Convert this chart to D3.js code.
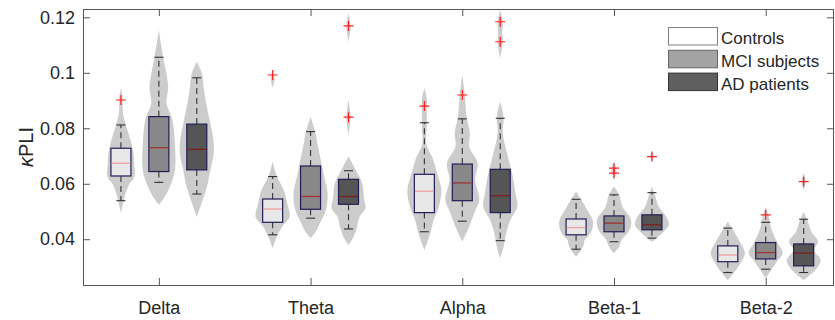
<!DOCTYPE html>
<html>
<head>
<meta charset="utf-8">
<script src="https://cdn.jsdelivr.net/npm/d3@7"></script>
<style>
  body { margin: 0; background: #fff; }
  text { font-family: "Liberation Sans", Arial, sans-serif; fill: #262626; }
</style>
</head>
<body>
<div id="chart"></div>
<script>
// bands on the x axis and the three cohorts
const bands = ["Delta", "Theta", "Alpha", "Beta-1", "Beta-2"];
const cohorts = ["Controls", "MCI subjects", "AD patients"];
const yTicks = [0.04, 0.06, 0.08, 0.1, 0.12];

// box stats per cohort, one value per band: [lowWhisker, q1, median, q3, highWhisker]
const controlsStats = [
  [0.0539, 0.0628, 0.0674, 0.0728, 0.0812],
  [0.0416, 0.0461, 0.0509, 0.0545, 0.0626],
  [0.0427, 0.0496, 0.0573, 0.0634, 0.0820],
  [0.0364, 0.0416, 0.0442, 0.0473, 0.0544],
  [0.0280, 0.0319, 0.0343, 0.0376, 0.0440]
];
const mciStats = [
  [0.0605, 0.0644, 0.0730, 0.0842, 0.1056],
  [0.0476, 0.0508, 0.0554, 0.0664, 0.0788],
  [0.0465, 0.0539, 0.0603, 0.0671, 0.0834],
  [0.0391, 0.0427, 0.0458, 0.0484, 0.0560],
  [0.0292, 0.0329, 0.0352, 0.0388, 0.0461]
];
const adStats = [
  [0.0563, 0.0650, 0.0724, 0.0815, 0.0982],
  [0.0437, 0.0526, 0.0554, 0.0616, 0.0647],
  [0.0395, 0.0496, 0.0557, 0.0652, 0.0836],
  [0.0404, 0.0434, 0.0452, 0.0488, 0.0568],
  [0.0280, 0.0304, 0.0350, 0.0383, 0.0472]
];

// outliers per cohort per band
const controlsOutliers = [[0.0902], [0.0992], [0.0880], [], []];
const mciOutliers = [[], [], [0.0920], [0.0638, 0.0656], [0.0488]];
const adOutliers = [[], [0.0840, 0.1169], [0.1112, 0.1184], [0.0698], [0.0608]];

// violin outlines: [value, relative half-width], null = gap
const controlsViolins = [
  [[0.0945,0],[0.0915,0.09],[0.088,0.1],[0.085,0.13],[0.082,0.25],[0.079,0.4],[0.076,0.55],[0.073,0.68],[0.070,0.75],[0.067,0.78],[0.064,0.82],[0.062,0.75],[0.060,0.5],[0.057,0.3],[0.054,0.17],[0.0495,0]],
  [[0.1006,0],[0.0975,0.1],[0.0946,0], null, [0.068,0],[0.0626,0.25],[0.0578,0.65],[0.053,0.85],[0.0481,1.0],[0.0445,0.55],[0.0409,0.25],[0.0368,0]],
  [[0.0945,0],[0.0902,0.15],[0.086,0.14],[0.083,0.15],[0.0783,0.12],[0.0747,0.1],[0.0722,0.25],[0.0698,0.45],[0.0638,0.75],[0.0578,1.0],[0.0517,0.85],[0.047,0.55],[0.0422,0.35],[0.0361,0]],
  [[0.0572,0],[0.0542,0.3],[0.0506,0.65],[0.0463,1.0],[0.0422,0.85],[0.0397,0.5],[0.038,0.45],[0.0361,0.3],[0.0337,0]],
  [[0.0463,0],[0.0434,0.3],[0.0397,0.65],[0.035,1.0],[0.0314,0.75],[0.0283,0.4],[0.0253,0]]
];
const mciViolins = [
  [[0.1154,0],[0.1058,0.25],[0.095,0.55],[0.089,0.45],[0.083,0.8],[0.0734,0.95],[0.065,0.95],[0.059,0.65],[0.0554,0.35],[0.0524,0]],
  [[0.0842,0],[0.0788,0.27],[0.0746,0.4],[0.0686,0.6],[0.0626,0.8],[0.0566,1.0],[0.0506,0.9],[0.0458,0.55],[0.0427,0.3],[0.0404,0]],
  [[0.0992,0],[0.092,0.15],[0.0842,0.25],[0.0783,0.45],[0.0734,0.4],[0.0674,0.9],[0.0614,0.75],[0.0542,1.0],[0.0494,0.7],[0.0445,0.4],[0.0391,0]],
  [[0.068,0],[0.0647,0.15],[0.0614,0], null, [0.059,0],[0.056,0.3],[0.0517,0.5],[0.047,1.0],[0.0434,0.92],[0.0397,0.45],[0.0373,0.3],[0.035,0]],
  [[0.0517,0],[0.0476,0.2],[0.0434,0.35],[0.0386,0.7],[0.035,1.0],[0.0319,0.65],[0.0296,0.4],[0.0259,0]]
];
const adViolins = [
  [[0.104,0],[0.0998,0.3],[0.095,0.4],[0.089,0.55],[0.083,0.75],[0.077,0.95],[0.0711,1.0],[0.065,0.8],[0.059,0.6],[0.0542,0.35],[0.048,0]],
  [[0.1214,0],[0.1169,0.12],[0.1112,0], null, [0.0902,0],[0.084,0.12],[0.0776,0], null, [0.0698,0],[0.065,0.42],[0.0602,0.8],[0.0542,0.92],[0.0513,1.0],[0.0481,0.65],[0.0445,0.5],[0.0409,0.3],[0.0379,0]],
  [[0.1226,0],[0.1184,0.15],[0.1148,0.12],[0.1112,0.15],[0.1053,0], null, [0.0896,0],[0.0842,0.2],[0.0783,0.15],[0.071,0.4],[0.0638,0.7],[0.0566,0.9],[0.0517,1.0],[0.047,0.6],[0.0422,0.35],[0.0373,0.2],[0.0332,0]],
  [[0.0716,0],[0.0698,0.1],[0.068,0], null, [0.059,0],[0.0554,0.2],[0.0517,0.4],[0.0481,0.85],[0.0452,1.0],[0.0422,0.6],[0.0391,0]],
  [[0.0639,0],[0.0608,0.12],[0.0578,0], null, [0.0499,0],[0.0463,0.25],[0.0427,0.45],[0.0391,0.85],[0.0361,0.6],[0.0325,1.0],[0.029,0.7],[0.0253,0]]
];

const series = [
  { name: cohorts[0], stats: controlsStats, outliers: controlsOutliers, violins: controlsViolins,
    offset: -0.25, fill: "#e8e8e8", median: "#f2a0a0", legendFill: "#ffffff", legendStroke: "#808080" },
  { name: cohorts[1], stats: mciStats, outliers: mciOutliers, violins: mciViolins,
    offset: 0, fill: "#888888", median: "#a33232", legendFill: "#a3a3a3", legendStroke: "#666666" },
  { name: cohorts[2], stats: adStats, outliers: adOutliers, violins: adViolins,
    offset: 0.25, fill: "#555555", median: "#7e1f1f", legendFill: "#5f5f5f", legendStroke: "#333333" }
];

const W = 835, H = 320;
const margin = { left: 83, right: 1, top: 9, bottom: 35 };

const svg = d3.select("#chart").append("svg")
  .attr("width", W).attr("height", H);

const x = d3.scaleLinear().domain([0.5, 5.45]).range([margin.left, W - margin.right]);
const y = d3.scaleLinear().domain([0.0235, 0.123]).range([H - margin.bottom, margin.top]);
// violin half-width and box sizes, in pixels
const vw = d3.scaleLinear().domain([0, 1]).range([0, 17]);
const boxHalf = 10, capHalf = 4.5;

// violins behind everything
const plot = svg.append("g");
series.forEach(s => {
  s.violins.forEach((prof, i) => {
    const cx = x(i + 1 + s.offset);
    const area = d3.area()
      .defined(d => d !== null)
      .y(d => y(d[0]))
      .x0(d => cx - vw(d[1]))
      .x1(d => cx + vw(d[1]))
      .curve(d3.curveCatmullRom.alpha(0.5));
    plot.append("path")
      .attr("d", area(prof))
      .attr("fill", "#cccccc");
  });
});

// boxes, whiskers, medians, outliers
series.forEach(s => {
  s.stats.forEach((st, i) => {
    const cx = x(i + 1 + s.offset);
    const [lw, q1, med, q3, uw] = st;
    const g = plot.append("g");
    // dashed whiskers
    [[q3, uw], [q1, lw]].forEach(([a, b]) => {
      g.append("line")
        .attr("x1", cx).attr("x2", cx)
        .attr("y1", y(a)).attr("y2", y(b))
        .attr("stroke", "#333").attr("stroke-width", 1.1)
        .attr("stroke-dasharray", "6,4");
    });
    // whisker caps
    [lw, uw].forEach(v => {
      g.append("line")
        .attr("x1", cx - capHalf).attr("x2", cx + capHalf)
        .attr("y1", y(v)).attr("y2", y(v))
        .attr("stroke", "#333").attr("stroke-width", 1.1);
    });
    g.append("rect")
      .attr("x", cx - boxHalf).attr("width", boxHalf * 2)
      .attr("y", y(q3)).attr("height", y(q1) - y(q3))
      .attr("fill", s.fill)
      .attr("stroke", "#1e1e55").attr("stroke-width", 1.2);
    g.append("line")
      .attr("x1", cx - boxHalf + 0.6).attr("x2", cx + boxHalf - 0.6)
      .attr("y1", y(med)).attr("y2", y(med))
      .attr("stroke", s.median).attr("stroke-width", 1.3);
    // red + markers
    s.outliers[i].forEach(v => {
      g.append("path")
        .attr("d", `M${cx - 5},${y(v)}H${cx + 5}M${cx},${y(v) - 5}V${y(v) + 5}`)
        .attr("stroke", "#ff2020").attr("stroke-width", 1.2).attr("fill", "none");
    });
  });
});

// axes frame and ticks
const frame = svg.append("g");
frame.append("rect")
  .attr("x", margin.left + 0.5).attr("y", margin.top + 0.5)
  .attr("width", W - margin.right - margin.left - 1)
  .attr("height", H - margin.bottom - margin.top)
  .attr("fill", "none").attr("stroke", "#555").attr("stroke-width", 1);

frame.append("g")
  .attr("transform", `translate(${margin.left},0)`)
  .call(d3.axisLeft(y).tickValues(yTicks).tickSize(-7).tickPadding(8)
    .tickFormat(d => d3.format("")(+d.toFixed(2))));
frame.append("g")
  .attr("transform", `translate(${W - margin.right},0)`)
  .call(d3.axisRight(y).tickValues(yTicks).tickSize(-7).tickFormat(""));

frame.append("g")
  .attr("transform", `translate(0,${H - margin.bottom})`)
  .call(d3.axisBottom(x).tickValues([1, 2, 3, 4, 5]).tickSize(-7).tickPadding(16)
    .tickFormat(d => bands[d - 1]));
frame.append("g")
  .attr("transform", `translate(0,${margin.top})`)
  .call(d3.axisTop(x).tickValues([1, 2, 3, 4, 5]).tickSize(-7).tickFormat(""));

frame.selectAll(".domain").remove();
frame.selectAll(".tick line").attr("stroke", "#555");
frame.selectAll(".tick text")
  .attr("font-size", 18)
  .attr("font-family", "'Liberation Sans', Arial, sans-serif")
  .attr("fill", "#262626");

// y label
const yl = svg.append("text")
  .attr("transform", `translate(33,${(margin.top + H - margin.bottom) / 2}) rotate(-90)`)
  .attr("text-anchor", "middle")
  .attr("font-size", 20);
yl.append("tspan").attr("font-style", "italic").text("κ");
yl.append("tspan").text("PLI");

// legend
const legend = svg.append("g").attr("transform", "translate(668,27)");
series.forEach((s, i) => {
  const row = legend.append("g").attr("transform", `translate(0,${i * 22.8})`);
  row.append("rect")
    .attr("x", 0.5).attr("y", 0.5).attr("width", 49).attr("height", 17.5)
    .attr("fill", s.legendFill).attr("stroke", s.legendStroke).attr("stroke-width", 1);
  row.append("text")
    .attr("x", 53).attr("y", 17)
    .attr("font-size", 17)
    .text(s.name);
});
</script>
</body>
</html>
